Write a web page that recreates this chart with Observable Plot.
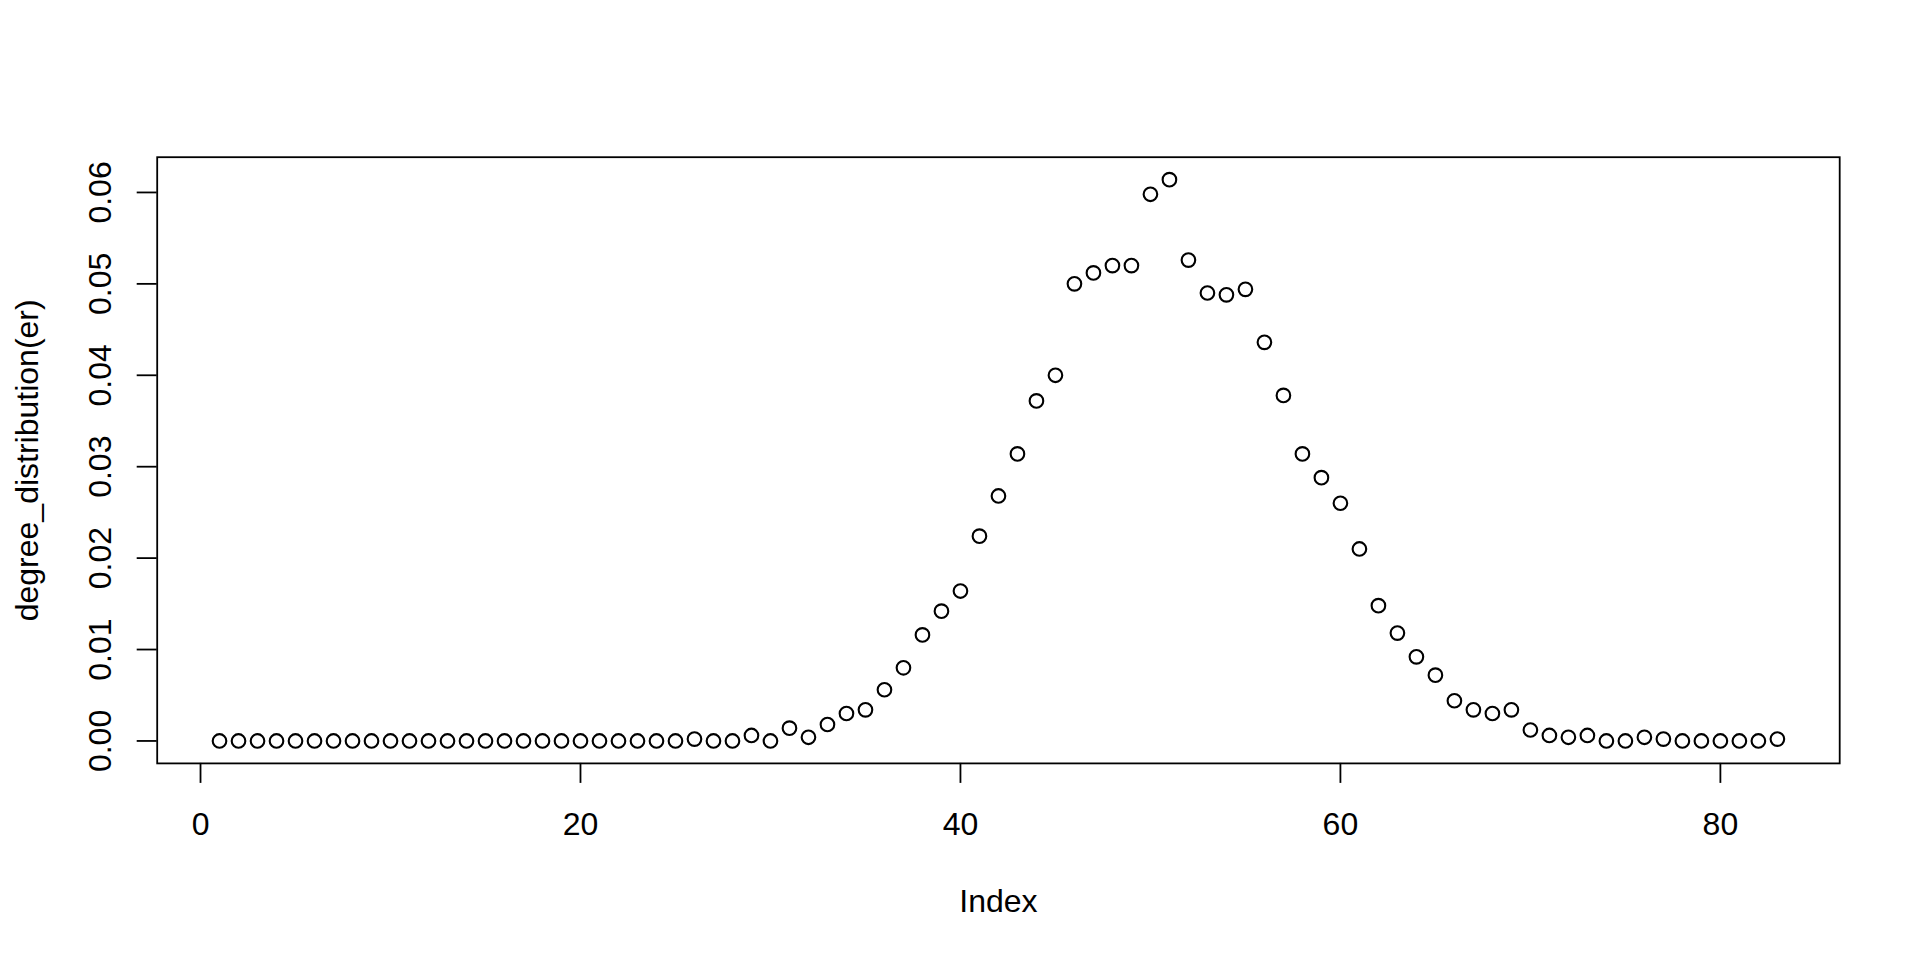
<!DOCTYPE html>
<html>
<head>
<meta charset="utf-8">
<script src="https://cdn.jsdelivr.net/npm/d3@7"></script>
<script src="https://cdn.jsdelivr.net/npm/@observablehq/plot@0.6"></script>
<style>
  html, body { margin: 0; padding: 0; background: #fff; }
  #chart { width: 1920px; height: 960px; }
</style>
</head>
<body>
<div id="chart"></div>
<script>
// Degree distribution values (index 1..83)
const degreeValues = [
  0, 0, 0, 0, 0, 0, 0, 0, 0, 0,
  0, 0, 0, 0, 0, 0, 0, 0, 0, 0,
  0, 0, 0, 0, 0, 0.0002, 0, 0, 0.0006, 0,
  0.0014, 0.0004, 0.0018, 0.0030, 0.0034, 0.0056, 0.0080, 0.0116, 0.0142, 0.0164,
  0.0224, 0.0268, 0.0314, 0.0372, 0.0400, 0.0500, 0.0512, 0.0520, 0.0520, 0.0598,
  0.0614, 0.0526, 0.0490, 0.0488, 0.0494, 0.0436, 0.0378, 0.0314, 0.0288, 0.0260,
  0.0210, 0.0148, 0.0118, 0.0092, 0.0072, 0.0044, 0.0034, 0.0030, 0.0034, 0.0012,
  0.0006, 0.0004, 0.0006, 0, 0, 0.0004, 0.0002, 0, 0, 0,
  0, 0, 0.0002
];
const indexValues = degreeValues.map((_, i) => i + 1);

const xTicks = [0, 20, 40, 60, 80];
const xTickLabels = ["0", "20", "40", "60", "80"];
const yTicks = [0, 0.01, 0.02, 0.03, 0.04, 0.05, 0.06];
const yTickLabels = ["0.00", "0.01", "0.02", "0.03", "0.04", "0.05", "0.06"];

const xTitle = "Index";
const yTitle = "degree_distribution(er)";

const data = indexValues.map((x, i) => ({x, y: degreeValues[i]}));

// R-style 4% axis extension
function extend([a, b]) { const d = (b - a) * 0.04; return [a - d, b + d]; }
const xDomain = extend(d3.extent(indexValues));
const yDomain = extend([Math.min(0, d3.min(degreeValues)), d3.max(degreeValues)]);

const FS = 32;

const chart = Plot.plot({
  width: 1920,
  height: 960,
  marginLeft: 156.7,
  marginRight: 80.8,
  marginTop: 156.7,
  marginBottom: 197.1,
  style: {fontFamily: "'Liberation Sans', Arial, Helvetica, sans-serif", fontSize: FS + "px", color: "#000", background: "#fff"},
  x: {domain: xDomain},
  y: {domain: yDomain},
  marks: [
    Plot.frame({stroke: "#000", strokeWidth: 1.8}),
    Plot.axisX({ticks: xTicks, tickSize: 20, tickFormat: () => "", label: null, strokeWidth: 1.8, stroke: "#000"}),
    Plot.axisY({ticks: yTicks, tickSize: 20, tickFormat: () => "", label: null, strokeWidth: 1.8, stroke: "#000"}),
    Plot.text(xTicks, {x: d => d, text: (d, i) => xTickLabels[i], frameAnchor: "bottom", dy: 61, lineAnchor: "middle", fontSize: FS, fill: "#000"}),
    Plot.text(yTicks, {y: d => d, text: (d, i) => yTickLabels[i], frameAnchor: "left", dx: -56.7, rotate: -90, lineAnchor: "middle", textAnchor: "middle", fontSize: FS, fill: "#000"}),
    Plot.text([xTitle], {text: d => d, frameAnchor: "bottom", dy: 138, lineAnchor: "middle", fontSize: FS, fill: "#000"}),
    Plot.text([yTitle], {text: d => d, frameAnchor: "left", dx: -129.7, rotate: -90, lineAnchor: "middle", textAnchor: "middle", fontSize: FS, fill: "#000"}),
    Plot.dot(data, {x: "x", y: "y", r: 6.8, stroke: "#000", strokeWidth: 2.1, fill: "none"})
  ]
});
document.getElementById("chart").appendChild(chart);
</script>
</body>
</html>
